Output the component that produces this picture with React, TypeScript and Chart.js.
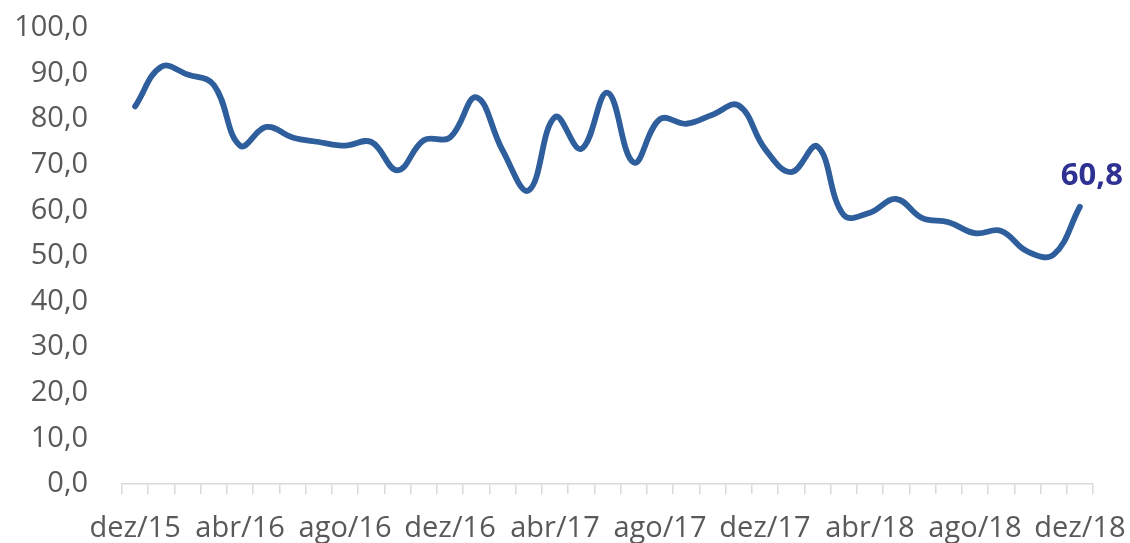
import React, { useEffect, useRef } from "react";
import { Chart, registerables } from "chart.js";

Chart.register(...registerables);

const categories: string[] = [
  "dez/15", "jan/16", "fev/16", "mar/16", "abr/16", "mai/16", "jun/16", "jul/16", "ago/16", "set/16", "out/16", "nov/16",
  "dez/16", "jan/17", "fev/17", "mar/17", "abr/17", "mai/17", "jun/17", "jul/17", "ago/17", "set/17", "out/17", "nov/17",
  "dez/17", "jan/18", "fev/18", "mar/18", "abr/18", "mai/18", "jun/18", "jul/18", "ago/18", "set/18", "out/18", "nov/18",
  "dez/18",
];

const seriesValues: number[] = [
  82.8, 91.5, 89.8, 87.5, 74.2, 78.3, 76.0, 75.0, 74.2, 75.0, 68.8, 75.4,
  76.0, 84.8, 73.2, 64.4, 80.5, 73.5, 85.8, 70.5, 80.0, 79.0, 81.0, 83.0,
  73.5, 68.4, 74.0, 59.0, 59.5, 62.5, 58.3, 57.4, 55.0, 55.5, 51.0, 50.3,
  60.8,
];

const yTicks: number[] = [0, 10, 20, 30, 40, 50, 60, 70, 80, 90, 100];

const fmt = (v: number) => v.toFixed(1).replace(".", ",");

const lastLabelPlugin = {
  id: "lastLabel",
  afterDatasetsDraw(chart: any) {
    const meta = chart.getDatasetMeta(0);
    const idx = seriesValues.length - 1;
    const pt = meta.data[idx];
    if (!pt) return;
    const ctx = chart.ctx;
    ctx.save();
    ctx.font = "bold 31px 'Open Sans'";
    ctx.fillStyle = "#2E3192";
    ctx.textAlign = "center";
    ctx.textBaseline = "middle";
    ctx.fillText(fmt(seriesValues[idx]), pt.x + 12, pt.y - 31);
    ctx.restore();
  },
};

export default function App() {
  const ref = useRef<HTMLCanvasElement | null>(null);
  useEffect(() => {
    document.body.style.margin = "0";
    if (!ref.current) return;
    const chart = new Chart(ref.current, {
      type: "line",
      data: {
        labels: categories,
        datasets: [
          {
            data: seriesValues,
            borderColor: "#2E5E9C",
            borderWidth: 5.8,
            pointRadius: 0,
            tension: 0.4,
            fill: false,
            borderCapStyle: "round",
          },
        ],
      },
      options: {
        animation: false,
        responsive: false,
        maintainAspectRatio: false,
        layout: { padding: { top: 28, right: 37, left: 0, bottom: 0 } },
        plugins: { legend: { display: false }, tooltip: { enabled: false } },
        scales: {
          x: {
            offset: true,
            afterFit: (axis: any) => {
              axis.paddingLeft = 0;
              axis.paddingRight = 0;
              axis.height = 59;
            },
            grid: {
              offset: true,
              drawOnChartArea: false,
              drawTicks: true,
              tickLength: 10,
              color: "#D9D9D9",
              lineWidth: 1.5,
            },
            border: { display: true, color: "#D9D9D9", width: 1.5 },
            ticks: {
              autoSkip: false,
              maxRotation: 0,
              minRotation: 0,
              padding: 17,
              color: "#595959",
              font: { family: "'Open Sans'", size: 29 },
              callback: (_v: any, i: number) => (i % 4 === 0 ? categories[i] : ""),
            },
          },
          y: {
            min: 0,
            max: 100,
            afterBuildTicks: (axis: any) => {
              axis.ticks = yTicks.map((v) => ({ value: v }));
            },
            afterFit: (axis: any) => {
              axis.width = 122;
              axis.paddingTop = 0;
              axis.paddingBottom = 0;
            },
            grid: { display: false },
            border: { display: false },
            ticks: {
              padding: 26,
              color: "#595959",
              font: { family: "'Open Sans'", size: 29 },
              callback: (v: any) => fmt(Number(v)),
            },
          },
        },
      },
      plugins: [lastLabelPlugin],
    });
    return () => chart.destroy();
  }, []);
  return (
    <div style={{ width: 1130, height: 543 }}>
      <canvas ref={ref} width={1130} height={543} style={{ display: "block" }} />
    </div>
  );
}
